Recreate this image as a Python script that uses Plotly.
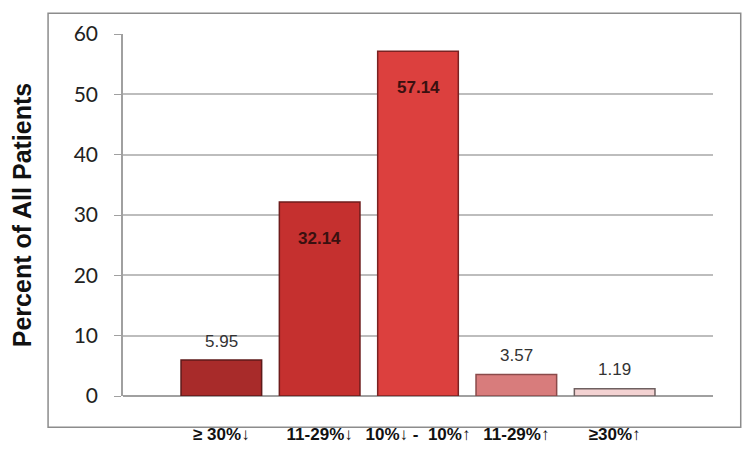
import plotly.graph_objects as go

categories = ["≥ 30%↓", "11-29%↓", "10%↓ -  10%↑", "11-29%↑", "≥30%↑"]
values = [5.95, 32.14, 57.14, 3.57, 1.19]
value_labels = ["5.95", "32.14", "57.14", "3.57", "1.19"]
bar_colors = ["#A82B2A", "#C5302F", "#DC403E", "#D87C7C", "#F3D2D2"]
edge_colors = ["#5E1A1A", "#6E1C1C", "#7A2222", "#8A4A4A", "#6E6060"]
inside_label = [False, True, True, False, False]

fig = go.Figure()

fig.add_trace(go.Bar(
    x=categories,
    y=values,
    width=0.82,
    marker=dict(color=bar_colors, line=dict(color=edge_colors, width=1.5)),
    hoverinfo="x+y",
))

# value labels: inside near the top for tall bars, above for short ones
for cat, val, lab, inside in zip(categories, values, value_labels, inside_label):
    fig.add_annotation(
        x=cat, y=val, text=lab, showarrow=False,
        yshift=-36 if inside else 19,
        font=dict(family="Liberation Sans, Arial", size=17,
                  color="#3A1010" if inside else "#333333",
                  weight="bold" if inside else "normal"),
    )

# outer frame around the chart
fig.add_shape(
    type="rect", xref="paper", yref="paper",
    x0=-0.127, x1=1.047, y0=-0.086, y1=1.057,
    line=dict(color="#8C8C8C", width=1.5),
)

fig.update_layout(
    width=742, height=452,
    margin=dict(l=100, r=37, t=20, b=64),
    paper_bgcolor="white",
    plot_bgcolor="white",
    showlegend=False,
    font=dict(family="Liberation Sans, Arial", color="#111111"),
    xaxis=dict(
        range=[-1, 5],
        showgrid=False,
        showline=False,
        ticks="",
        tickfont=dict(family="Liberation Sans, Arial", size=17, color="#111111", weight="bold"),
        ticklabelstandoff=26,
    ),
    yaxis=dict(
        range=[0, 60],
        dtick=10,
        showgrid=True,
        gridcolor="#BDBDBD",
        gridwidth=1.5,
        showline=True,
        linecolor="#A0A0A0",
        linewidth=1.5,
        ticks="outside",
        ticklen=7,
        tickcolor="#A0A0A0",
        ticklabelstandoff=12,
        tickfont=dict(family="Lato, Liberation Sans", size=21, color="#222222"),
        title=dict(
            text="Percent of All Patients",
            font=dict(family="Liberation Sans, Arial", size=25, color="#111111", weight="bold"),
            standoff=36,
        ),
        zeroline=True,
        zerolinecolor="#A0A0A0",
        zerolinewidth=1.5,
    ),
)

fig.write_html("out.html")
